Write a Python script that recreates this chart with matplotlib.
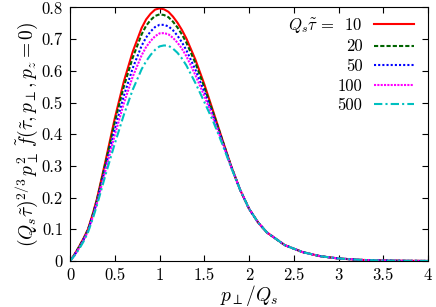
import matplotlib
matplotlib.use("Agg")
import matplotlib.pyplot as plt

plt.rcParams['font.family'] = 'cmr10'
plt.rcParams['mathtext.fontset'] = 'cm'
plt.rcParams['axes.formatter.use_mathtext'] = True

# p_perp / Q_s grid (finer around the peak)
p = [0, 0.05, 0.1, 0.15, 0.2, 0.25, 0.3, 0.4, 0.5, 0.6, 0.7, 0.8, 0.85, 0.9, 0.95,
     1.0, 1.05, 1.1, 1.15, 1.2, 1.25, 1.3, 1.4, 1.5, 1.6, 1.7, 1.8, 1.9, 2.0,
     2.1, 2.2, 2.4, 2.6, 2.8, 3.0, 3.25, 3.5, 3.75, 4.0]

tail = [0.122, 0.090, 0.050, 0.028, 0.015, 0.008, 0.0035, 0.0015, 0.0006, 0.0002]

f_10 = [0, 0.021, 0.045, 0.071, 0.100, 0.145, 0.195, 0.320, 0.450, 0.565, 0.660,
        0.735, 0.762, 0.780, 0.793, 0.797, 0.794, 0.786, 0.771, 0.752, 0.729,
        0.702, 0.636, 0.558, 0.472, 0.385, 0.300, 0.225, 0.165] + tail
f_20 = [0, 0.020, 0.044, 0.069, 0.098, 0.142, 0.192, 0.313, 0.438, 0.549, 0.641,
        0.715, 0.742, 0.760, 0.773, 0.778, 0.776, 0.769, 0.755, 0.737, 0.715,
        0.689, 0.625, 0.549, 0.467, 0.383, 0.299, 0.225, 0.165] + tail
f_50 = [0, 0.019, 0.042, 0.067, 0.096, 0.139, 0.186, 0.301, 0.416, 0.520, 0.608,
        0.679, 0.705, 0.724, 0.738, 0.745, 0.745, 0.740, 0.728, 0.711, 0.690,
        0.665, 0.604, 0.534, 0.458, 0.379, 0.298, 0.225, 0.165] + tail
f_100 = [0, 0.018, 0.040, 0.065, 0.093, 0.135, 0.182, 0.290, 0.397, 0.496, 0.581,
         0.649, 0.675, 0.694, 0.709, 0.718, 0.719, 0.715, 0.704, 0.689, 0.670,
         0.646, 0.587, 0.521, 0.451, 0.375, 0.297, 0.225, 0.165] + tail
f_500 = [0, 0.017, 0.037, 0.061, 0.090, 0.130, 0.175, 0.275, 0.370, 0.460, 0.540,
         0.605, 0.630, 0.650, 0.666, 0.677, 0.680, 0.679, 0.670, 0.657, 0.639,
         0.617, 0.562, 0.502, 0.440, 0.370, 0.295, 0.225, 0.165] + tail

labels = [r'$Q_s\tilde{\tau}\,=\,$ 10', '20', '50', '100', '500']
series = [f_10, f_20, f_50, f_100, f_500]
colors = ['#ff0000', '#006400', '#0000ff', '#ff00ff', '#00c0c0']
styles = ['-', (0, (2, 1)), (0, (1, 1)), (0, (1, 0.6)), (0, (4, 1.5, 1, 1.5))]

fig = plt.figure(figsize=(4.36, 3.07), dpi=100)
ax = fig.add_axes([0.1606, 0.1498, 0.8211, 0.8261])

for y, lab, c, ls in zip(series, labels, colors, styles):
    ax.plot(p, y, color=c, linestyle=ls, linewidth=1.5, label=lab)

ax.set_xlim(0, 4)
ax.set_ylim(0, 0.8)
ax.set_xticks([0, 0.5, 1, 1.5, 2, 2.5, 3, 3.5, 4])
ax.set_xticklabels(['0', '0.5', '1', '1.5', '2', '2.5', '3', '3.5', '4'])
ax.set_yticks([0, 0.1, 0.2, 0.3, 0.4, 0.5, 0.6, 0.7, 0.8])
ax.set_yticklabels(['0', '0.1', '0.2', '0.3', '0.4', '0.5', '0.6', '0.7', '0.8'])
ax.tick_params(direction='in', top=True, right=True, length=4, labelsize=12, pad=5)
ax.set_xlabel(r'$p_\perp/Q_s$', fontsize=14, labelpad=0)
ax.set_ylabel(r'$(Q_s\tilde{\tau})^{2/3}\,p_\perp^2\,\tilde{f}(\tilde{\tau},p_\perp,p_z=0)$',
              fontsize=14, labelpad=1)

# markerfirst=False right-aligns the rows, so the labels line up on the right
ax.legend(loc='upper right', bbox_to_anchor=(0.984, 1.0), frameon=False,
          markerfirst=False, fontsize=12, handlelength=2.4, labelspacing=0.26,
          borderaxespad=0.1, handletextpad=0.7)

fig.savefig('out.png', dpi=100)
